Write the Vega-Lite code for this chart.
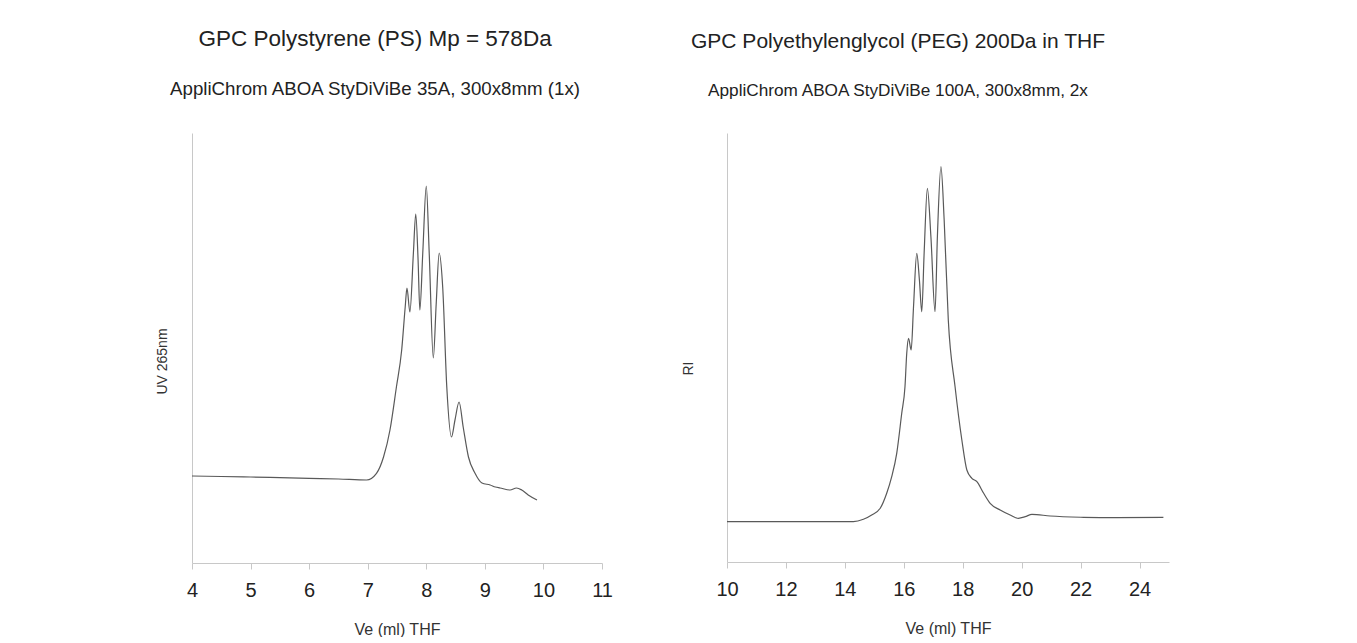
{
  "$schema": "https://vega.github.io/schema/vega-lite/v6.json",
  "background": "white",
  "padding": {"left": 155, "top": 27, "right": 5, "bottom": 0},
  "spacing": 68,
  "config": {
    "font": "Liberation Sans",
    "view": {"stroke": null},
    "axis": {"domainColor": "#c8c8c8", "tickColor": "#c8c8c8", "labelColor": "#222222", "titleColor": "#333333", "grid": false, "titleFontWeight": "normal"},
    "title": {"color": "#222222", "subtitleColor": "#222222", "fontWeight": "normal", "fontSize": 21, "subtitleFontSize": 18, "subtitlePadding": 30, "frame": "group", "anchor": "middle"}
  },
  "hconcat": [
    {
      "width": 410,
      "height": 430,
      "title": {"text": "GPC Polystyrene (PS) Mp = 578Da", "subtitle": "AppliChrom ABOA StyDiViBe 35A, 300x8mm (1x)", "dx": -22, "offset": 34, "fontSize": 22.5, "subtitleFontSize": 18.7},
      "data": {"values": [
        {"ve": 4.0, "signal": 87}, {"ve": 4.5, "signal": 86.5}, {"ve": 5.0, "signal": 86}, {"ve": 5.5, "signal": 85.3}, {"ve": 6.0, "signal": 84.6}, {"ve": 6.5, "signal": 84}, {"ve": 6.98, "signal": 83},
        {"ve": 7.15, "signal": 89.7}, {"ve": 7.27, "signal": 106}, {"ve": 7.38, "signal": 133}, {"ve": 7.49, "signal": 176}, {"ve": 7.58, "signal": 213},
        {"ve": 7.64, "signal": 256}, {"ve": 7.67, "signal": 275}, {"ve": 7.72, "signal": 251}, {"ve": 7.78, "signal": 310}, {"ve": 7.82, "signal": 349},
        {"ve": 7.86, "signal": 303}, {"ve": 7.89, "signal": 253}, {"ve": 7.94, "signal": 310}, {"ve": 8.0, "signal": 377}, {"ve": 8.05, "signal": 310},
        {"ve": 8.12, "signal": 205}, {"ve": 8.17, "signal": 260}, {"ve": 8.22, "signal": 310}, {"ve": 8.28, "signal": 276}, {"ve": 8.35, "signal": 176},
        {"ve": 8.43, "signal": 126}, {"ve": 8.49, "signal": 143}, {"ve": 8.56, "signal": 161}, {"ve": 8.63, "signal": 136}, {"ve": 8.72, "signal": 106},
        {"ve": 8.83, "signal": 90}, {"ve": 8.95, "signal": 80}, {"ve": 9.09, "signal": 78}, {"ve": 9.18, "signal": 76}, {"ve": 9.26, "signal": 75},
        {"ve": 9.43, "signal": 73}, {"ve": 9.54, "signal": 75}, {"ve": 9.63, "signal": 73}, {"ve": 9.74, "signal": 68}, {"ve": 9.89, "signal": 63}
      ]},
      "mark": {"type": "line", "color": "#595959", "strokeWidth": 1.2, "interpolate": "monotone"},
      "encoding": {
        "x": {"field": "ve", "type": "quantitative", "scale": {"domain": [4, 11], "nice": false, "zero": false},
          "axis": {"title": "Ve (ml) THF", "values": [4, 5, 6, 7, 8, 9, 10, 11], "labelFontSize": 20, "labelPadding": 11, "tickSize": 6, "titleFontSize": 16, "titlePadding": 21, "labelFlush": false}},
        "y": {"field": "signal", "type": "quantitative", "scale": {"domain": [0, 430], "nice": false},
          "axis": {"title": "UV 265nm", "labels": false, "ticks": false, "titleFontSize": 14, "titleAngle": 270, "titleX": -30, "titleY": 228, "titleAlign": "center", "titleBaseline": "middle"}}
      }
    },
    {
      "width": 442,
      "height": 429,
      "title": {"text": "GPC Polyethylenglycol (PEG) 200Da in THF", "subtitle": "AppliChrom ABOA StyDiViBe 100A, 300x8mm, 2x", "dx": -50, "offset": 34, "fontSize": 21, "subtitleFontSize": 17.2},
      "data": {"values": [
        {"ve": 10.0, "signal": 40.3}, {"ve": 11.5, "signal": 40.3}, {"ve": 13.0, "signal": 40.3}, {"ve": 14.29, "signal": 40.3}, {"ve": 14.63, "signal": 42.7},
        {"ve": 14.91, "signal": 47}, {"ve": 15.2, "signal": 53.7}, {"ve": 15.42, "signal": 68.7}, {"ve": 15.59, "signal": 85.3}, {"ve": 15.76, "signal": 108.7},
        {"ve": 15.93, "signal": 148.7}, {"ve": 16.04, "signal": 175.3}, {"ve": 16.1, "signal": 208.7}, {"ve": 16.16, "signal": 223.7}, {"ve": 16.25, "signal": 212},
        {"ve": 16.33, "signal": 255.3}, {"ve": 16.44, "signal": 308.7}, {"ve": 16.53, "signal": 282}, {"ve": 16.61, "signal": 250.3}, {"ve": 16.69, "signal": 308.7},
        {"ve": 16.8, "signal": 373.7}, {"ve": 16.92, "signal": 325.3}, {"ve": 17.06, "signal": 250.3}, {"ve": 17.14, "signal": 325.3}, {"ve": 17.26, "signal": 395.3},
        {"ve": 17.37, "signal": 342}, {"ve": 17.51, "signal": 242}, {"ve": 17.74, "signal": 175.3}, {"ve": 17.97, "signal": 122}, {"ve": 18.14, "signal": 92},
        {"ve": 18.31, "signal": 83.7}, {"ve": 18.48, "signal": 80.3}, {"ve": 18.71, "signal": 68.7}, {"ve": 18.93, "signal": 58.7}, {"ve": 19.27, "signal": 52},
        {"ve": 19.61, "signal": 47}, {"ve": 19.89, "signal": 43.7}, {"ve": 20.12, "signal": 45.3}, {"ve": 20.35, "signal": 47.7}, {"ve": 20.97, "signal": 46},
        {"ve": 22.1, "signal": 44.7}, {"ve": 23.23, "signal": 44.3}, {"ve": 24.81, "signal": 44.7}
      ]},
      "mark": {"type": "line", "color": "#595959", "strokeWidth": 1.2, "interpolate": "monotone"},
      "encoding": {
        "x": {"field": "ve", "type": "quantitative", "scale": {"domain": [10, 25], "nice": false, "zero": false},
          "axis": {"title": "Ve (ml) THF", "values": [10, 12, 14, 16, 18, 20, 22, 24], "labelFontSize": 20, "labelPadding": 11, "tickSize": 6, "titleFontSize": 16, "titlePadding": 21, "labelFlush": false}},
        "y": {"field": "signal", "type": "quantitative", "scale": {"domain": [0, 429], "nice": false},
          "axis": {"title": "RI", "labels": false, "ticks": false, "titleFontSize": 14, "titleAngle": 270, "titleX": -39, "titleY": 235, "titleAlign": "center", "titleBaseline": "middle"}}
      }
    }
  ]
}
